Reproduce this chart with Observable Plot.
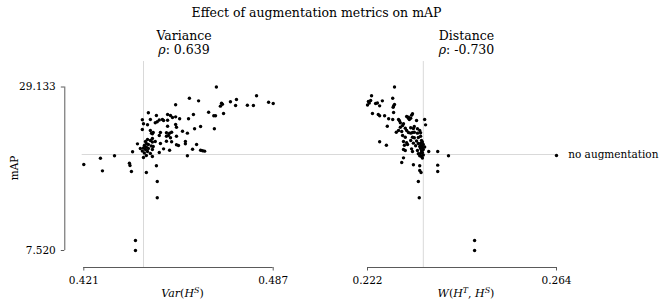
<!DOCTYPE html>
<html><head><meta charset="utf-8">
<script src="https://cdn.jsdelivr.net/npm/d3@7"></script>
<script src="https://cdn.jsdelivr.net/npm/@observablehq/plot@0.6"></script>
<style>
body{margin:0;background:#fff;}
#chart{position:relative;width:664px;height:307px;font-family:"DejaVu Serif",serif;color:#000;overflow:hidden;}
.lbl{position:absolute;white-space:nowrap;line-height:1;transform:translate(-50%,-50%);}
#chart svg{position:absolute;left:0;top:0;}
sup{font-size:0.72em;line-height:0;vertical-align:0.45em;}
</style></head><body>
<div id="chart">
  <div class="lbl" style="left:316.5px;top:13px;font-size:12.5px">Effect of augmentation metrics on mAP</div>
  <div class="lbl" style="left:184px;top:36px;font-size:12.5px">Variance</div>
  <div class="lbl" style="left:184px;top:50px;font-size:12.5px"><i>ρ</i>: 0.639</div>
  <div class="lbl" style="left:466.5px;top:36px;font-size:12.5px">Distance</div>
  <div class="lbl" style="left:466.5px;top:50px;font-size:12.5px"><i>ρ</i>: -0.730</div>
  <div class="lbl" style="left:14px;top:168px;font-size:10.5px;transform:translate(-50%,-50%) rotate(-90deg)">mAP</div>
  <div class="lbl" style="left:182.5px;top:293px;font-size:11px"><i>Var</i>(<i>H</i><sup><i>S</i></sup>)</div>
  <div class="lbl" style="left:466px;top:293px;font-size:11px"><i>W</i>(<i>H</i><sup><i>T</i></sup>, <i>H</i><sup><i>S</i></sup>)</div>
</div>
<script>
// Variance panel: Var(H^S) vs mAP
const varX = [
  0.4672, 0.4578, 0.4610, 0.4530, 0.4812, 0.4854, 0.4870, 0.4742, 0.4721, 0.4690,
  0.4693, 0.4686, 0.4739, 0.4780, 0.4801, 0.4645, 0.4697, 0.4669, 0.4663, 0.4592,
  0.4575, 0.4435, 0.4463, 0.4502, 0.4530, 0.4544, 0.4414, 0.4442, 0.4473, 0.4484,
  0.4488, 0.4502, 0.4512, 0.4519, 0.4459, 0.4466, 0.4418, 0.4432, 0.4530, 0.4533,
  0.4502, 0.4617, 0.4596, 0.4665, 0.4414, 0.4442, 0.4452, 0.4449, 0.4446, 0.4477,
  0.4498, 0.4509, 0.4516, 0.4554, 0.4571, 0.4473, 0.4498, 0.4505, 0.4533, 0.4512,
  0.4498, 0.4516, 0.4533, 0.4540, 0.4564, 0.4564, 0.4603, 0.4477, 0.4397, 0.4380,
  0.4473, 0.4488, 0.4509, 0.4589, 0.4617, 0.4624, 0.4631, 0.4571, 0.4317, 0.4268,
  0.4210, 0.4275, 0.4369, 0.4371, 0.4376, 0.4428, 0.4463, 0.4466, 0.4466, 0.4390,
  0.4390, 0.4432, 0.4442, 0.4425, 0.4449, 0.4428, 0.4435, 0.4421, 0.4445, 0.4428,
  0.4418, 0.4435, 0.4425, 0.4449, 0.4414, 0.4432, 0.4421, 0.4442, 0.4428, 0.4449,
  0.4418, 0.4452, 0.4407, 0.4459, 0.4449
];
const varY = [
  29.133, 27.65, 27.30, 26.78, 27.97, 27.12, 26.95, 27.48, 27.18, 26.99,
  26.86, 26.60, 26.69, 26.73, 26.69, 25.80, 25.63, 25.33, 25.33, 25.50,
  24.93, 25.72, 25.37, 25.50, 25.19, 24.93, 24.80, 24.84, 24.77, 24.84,
  24.70, 24.74, 25.37, 25.10, 24.40, 24.53, 24.27, 24.14, 24.18, 23.82,
  23.95, 23.91, 23.61, 23.61, 23.52, 23.38, 23.12, 22.95, 23.03, 23.12,
  23.08, 23.03, 23.16, 23.29, 23.03, 22.72, 22.63, 22.72, 22.63, 22.42,
  21.97, 21.89, 21.49, 21.40, 21.93, 21.62, 21.53, 21.67, 21.62, 20.57,
  20.48, 20.96, 20.78, 20.91, 20.78, 20.70, 20.65, 20.04, 20.04, 19.72,
  18.89, 18.05, 19.06, 18.76, 17.96, 17.83, 18.72, 16.64, 14.49, 8.84,
  7.520, 22.19, 22.06, 21.93, 21.86, 21.67, 21.53, 21.40, 21.33, 21.20,
  21.07, 21.00, 20.87, 20.87, 20.67, 20.61, 20.41, 20.34, 20.08, 19.95,
  19.81, 21.27, 21.00, 21.93, 22.33
];
// Distance panel: W(H^T, H^S) vs mAP
const distX = [
  0.2280, 0.2229, 0.2276, 0.2253, 0.2222, 0.2224, 0.2220, 0.2227, 0.2238, 0.2242,
  0.2247, 0.2280, 0.2278, 0.2277, 0.2231, 0.2244, 0.2247, 0.2258, 0.2278, 0.2267,
  0.2276, 0.2289, 0.2291, 0.2293, 0.2307, 0.2311, 0.2313, 0.2316, 0.2320, 0.2318,
  0.2311, 0.2329, 0.2347, 0.2349, 0.2264, 0.2300, 0.2298, 0.2293, 0.2304, 0.2316,
  0.2322, 0.2324, 0.2331, 0.2284, 0.2289, 0.2296, 0.2307, 0.2311, 0.2316, 0.2320,
  0.2324, 0.2331, 0.2336, 0.2338, 0.2298, 0.2304, 0.2320, 0.2324, 0.2333, 0.2338,
  0.2247, 0.2262, 0.2300, 0.2307, 0.2309, 0.2302, 0.2316, 0.2322, 0.2327, 0.2300,
  0.2304, 0.2318, 0.2320, 0.2331, 0.2333, 0.2336, 0.2356, 0.2376, 0.2400, 0.2300,
  0.2296, 0.2322, 0.2336, 0.2376, 0.2336, 0.2339, 0.2376, 0.2333, 0.2335, 0.2458,
  0.2458, 0.2640, 0.2340, 0.2342, 0.2338, 0.2344, 0.2340, 0.2342, 0.2338, 0.2344,
  0.2340, 0.2342, 0.2338, 0.2344, 0.2340, 0.2342, 0.2336, 0.2347, 0.2333, 0.2329
];
const distY = [
  29.133, 27.97, 27.65, 27.30, 27.22, 27.02, 26.75, 27.35, 26.95, 27.02,
  26.64, 26.82, 26.62, 26.46, 25.63, 25.50, 25.33, 25.33, 25.76, 24.93,
  24.84, 24.84, 24.67, 24.40, 25.23, 25.01, 24.84, 25.01, 25.59, 25.41,
  25.14, 24.70, 24.84, 24.13, 23.95, 24.27, 24.04, 23.82, 23.69, 23.74,
  23.65, 23.91, 23.61, 23.16, 23.38, 23.25, 23.38, 23.12, 23.03, 23.12,
  23.16, 23.03, 23.38, 23.08, 22.72, 22.49, 22.49, 22.42, 22.46, 22.63,
  21.89, 21.44, 21.93, 21.76, 21.53, 21.44, 22.06, 21.71, 21.36, 20.87,
  20.74, 20.96, 20.61, 20.74, 20.30, 20.04, 20.61, 20.61, 20.04, 19.77,
  19.15, 18.85, 18.72, 18.80, 18.10, 17.83, 17.96, 16.64, 14.49, 8.84,
  7.520, 20.08, 22.06, 21.86, 21.67, 21.53, 21.33, 21.14, 21.00, 20.87,
  20.67, 20.48, 20.34, 20.14, 19.95, 19.74, 21.27, 21.20, 21.67, 22.00
];
// tick values (data extents) and the "no augmentation" baseline
const mapTicks = [7.520, 29.133];
const varTicks = [0.421, 0.487];
const distTicks = [0.222, 0.264];
const baseVar = 0.4418, baseDist = 0.2344, baseMAP = 20.21;
const noAugLabel = ["no augmentation"];

const varData = varX.map((x, i) => ({x, y: varY[i]}));
const distData = distX.map((x, i) => ({x, y: distY[i]}));

const chartW = 664, chartH = 307, mTop = 86.5, mBottom = 57;
const refColor = "#d9d9d9", spineColor = "#5a5a5a";
const fmt = d3.format(".3f");
const plotStyle = {background: "transparent", fontFamily: "DejaVu Serif, serif", fontSize: "10.5px", overflow: "visible", color: "#000"};

const leftPlot = Plot.plot({
  width: chartW, height: chartH,
  marginLeft: 83.3, marginRight: chartW - 272.7, marginTop: mTop, marginBottom: mBottom,
  style: plotStyle,
  x: {domain: varTicks},
  y: {domain: mapTicks},
  marks: [
    Plot.ruleX([baseVar], {y1: 5.27, y2: 32.5, stroke: refColor, strokeWidth: 1}),
    Plot.ruleY([baseMAP], {x1: 0.42044, x2: 0.50, stroke: refColor, strokeWidth: 1}),
    Plot.ruleY([mapTicks[0]], {x1: varTicks[0], x2: varTicks[1], dy: 17, stroke: spineColor, strokeWidth: 1}),
    Plot.ruleX([varTicks[0]], {y1: mapTicks[0], y2: mapTicks[1], dx: -19, stroke: spineColor, strokeWidth: 1}),
    Plot.axisX(varTicks, {tickFormat: fmt, tickSize: 3.5, dy: 17, label: null, stroke: spineColor}),
    Plot.axisY(mapTicks, {tickFormat: fmt, tickSize: 3.5, dx: -19, label: null, stroke: spineColor}),
    Plot.dot(varData, {x: "x", y: "y", r: 1.7, fill: "#000", stroke: null})
  ]
});

const rightPlot = Plot.plot({
  width: chartW, height: chartH,
  marginLeft: 367, marginRight: chartW - 556, marginTop: mTop, marginBottom: mBottom,
  style: plotStyle,
  x: {domain: distTicks},
  y: {domain: mapTicks, axis: null},
  marks: [
    Plot.ruleX([baseDist], {y1: 5.27, y2: 32.5, stroke: refColor, strokeWidth: 1}),
    Plot.ruleY([baseMAP], {x1: 0.2071, x2: distTicks[1], stroke: refColor, strokeWidth: 1}),
    Plot.ruleY([mapTicks[0]], {x1: distTicks[0], x2: distTicks[1], dy: 17, stroke: spineColor, strokeWidth: 1}),
    Plot.axisX(distTicks, {tickFormat: fmt, tickSize: 3.5, dy: 17, label: null, stroke: spineColor}),
    Plot.dot(distData, {x: "x", y: "y", r: 1.7, fill: "#000", stroke: null}),
    Plot.text(noAugLabel, {x: distTicks[1], y: baseMAP, text: d => d, dx: 11.7, textAnchor: "start", fill: "#000", fontSize: 10.5})
  ]
});

const chart = document.getElementById("chart");
chart.appendChild(leftPlot);
chart.appendChild(rightPlot);
</script>
</body></html>
